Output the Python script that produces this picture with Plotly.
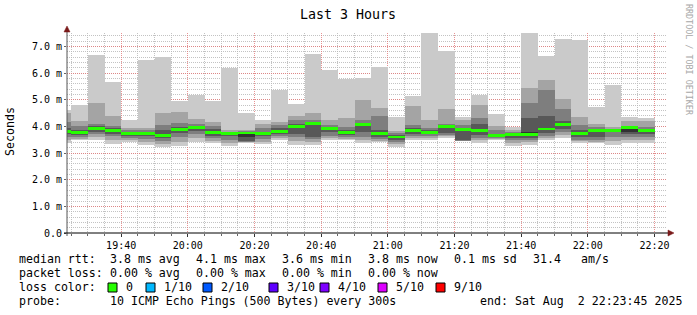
import plotly.graph_objects as go
from datetime import datetime

# ---------------- data ----------------
window_start = "2025-08-02 19:23:45"
window_end = "2025-08-02 22:23:45"
interval_end = ["19:25", "19:30", "19:35", "19:40", "19:45", "19:50", "19:55", "20:00",
                "20:05", "20:10", "20:15", "20:20", "20:25", "20:30", "20:35", "20:40",
                "20:45", "20:50", "20:55", "21:00", "21:05", "21:10", "21:15", "21:20",
                "21:25", "21:30", "21:35", "21:40", "21:45", "21:50", "21:55", "22:00",
                "22:05", "22:10", "22:15", "22:20"]

# sorted ping round-trip times per interval (ms)
ping_1 = [3.38, 3.47, 3.50, 3.35, 3.42, 3.30, 3.23, 3.28, 3.40, 3.36, 3.27, 3.36, 3.35, 3.48, 3.31, 3.30, 3.47, 3.47,
          3.36, 3.42, 3.21, 3.50, 3.49, 3.57, 3.44, 3.39, 3.50, 3.27, 3.30, 3.48, 3.58, 3.39, 3.36, 3.30, 3.36, 3.36]
ping_2 = [3.50, 3.53, 3.60, 3.48, 3.50, 3.42, 3.35, 3.42, 3.55, 3.45, 3.38, 3.40, 3.43, 3.55, 3.45, 3.42, 3.55, 3.53,
          3.48, 3.46, 3.32, 3.58, 3.55, 3.62, 3.45, 3.47, 3.53, 3.38, 3.40, 3.55, 3.68, 3.44, 3.42, 3.45, 3.47, 3.48]
ping_3 = [3.60, 3.60, 3.72, 3.62, 3.58, 3.52, 3.45, 3.60, 3.70, 3.55, 3.50, 3.42, 3.52, 3.65, 3.60, 3.52, 3.65, 3.60,
          3.60, 3.52, 3.42, 3.65, 3.62, 3.68, 3.46, 3.58, 3.56, 3.50, 3.48, 3.65, 3.80, 3.50, 3.50, 3.60, 3.60, 3.60]
ping_4 = [3.70, 3.68, 3.80, 3.72, 3.65, 3.62, 3.55, 3.75, 3.82, 3.65, 3.62, 3.45, 3.62, 3.72, 3.70, 3.60, 3.80, 3.68,
          3.78, 3.60, 3.50, 3.72, 3.70, 3.75, 3.48, 3.68, 3.60, 3.58, 3.55, 3.75, 3.90, 3.60, 3.60, 3.78, 3.72, 3.72]
ping_5 = [3.78, 3.73, 3.88, 3.82, 3.70, 3.70, 3.63, 3.85, 3.91, 3.74, 3.71, 3.60, 3.69, 3.79, 3.95, 4.05, 3.90, 3.74,
          4.00, 3.70, 3.57, 3.82, 3.76, 3.95, 3.82, 3.80, 3.63, 3.67, 3.66, 3.86, 4.05, 3.70, 3.82, 3.82, 3.80, 3.82]
ping_6 = [3.85, 3.80, 3.95, 3.89, 3.74, 3.76, 3.72, 3.91, 3.97, 3.80, 3.75, 3.77, 3.74, 3.85, 4.02, 4.14, 3.95, 3.79,
          4.08, 3.76, 3.62, 3.87, 3.80, 4.02, 3.90, 3.88, 3.67, 3.72, 3.78, 3.95, 4.12, 3.76, 3.86, 3.85, 3.97, 3.86]
ping_7 = [3.95, 3.88, 4.00, 3.95, 3.78, 3.80, 3.85, 3.98, 4.02, 3.90, 3.77, 3.80, 3.80, 3.92, 4.10, 4.18, 3.98, 3.85,
          4.12, 3.85, 3.68, 3.92, 3.85, 4.05, 3.95, 4.08, 3.72, 3.74, 4.32, 4.38, 4.19, 3.85, 3.90, 3.87, 3.99, 3.90]
ping_8 = [4.15, 4.00, 4.10, 4.02, 3.85, 3.85, 4.05, 4.11, 4.08, 4.02, 3.80, 3.83, 3.95, 4.05, 4.23, 4.23, 4.05, 3.98,
          4.23, 4.38, 3.75, 4.04, 3.95, 4.10, 4.05, 4.32, 3.85, 3.78, 4.88, 5.36, 4.64, 4.05, 3.98, 3.90, 4.02, 3.98]
ping_9 = [4.50, 4.20, 4.88, 4.38, 3.92, 3.94, 4.50, 4.54, 4.27, 4.17, 3.88, 3.87, 4.10, 4.15, 4.38, 4.50, 4.22, 4.30,
          4.98, 4.68, 3.82, 4.76, 4.23, 4.65, 4.25, 4.79, 4.00, 3.85, 5.44, 5.73, 5.02, 4.36, 4.08, 3.98, 4.21, 4.20]
ping_10 = [4.63, 4.79, 6.67, 5.65, 4.22, 6.48, 6.60, 4.95, 5.17, 4.94, 6.19, 4.50, 4.22, 5.37, 4.83, 6.73, 6.10, 5.79,
           5.83, 6.23, 4.36, 5.13, 7.50, 6.83, 4.36, 5.17, 4.46, 3.98, 7.50, 6.63, 7.27, 7.23, 4.73, 5.54, 4.36, 4.30]
median_rtt = [3.82, 3.76, 3.92, 3.86, 3.72, 3.73, 3.67, 3.88, 3.94, 3.78, 3.73, 3.75, 3.72, 3.82, 3.99, 4.11, 3.93, 3.76,
              4.06, 3.73, 3.60, 3.85, 3.78, 3.99, 3.88, 3.84, 3.65, 3.70, 3.71, 3.90, 4.08, 3.73, 3.84, 3.84, 3.95, 3.84]

y_ticks = [0, 1, 2, 3, 4, 5, 6, 7]
y_tick_text = ["0.0", "1.0 m", "2.0 m", "3.0 m", "4.0 m", "5.0 m", "6.0 m", "7.0 m"]

loss_labels = ["0", "1/10", "2/10", "3/10", "4/10", "5/10", "9/10"]
loss_colors = ["#26ff00", "#00b8ff", "#0059ff", "#5e00ff", "#7e00ff", "#dd00ff", "#ff0000"]

# ---------------- geometry ----------------
W, H = 697, 315
LEFT, RIGHT, TOP, BOTTOM = 67, 30, 33, 82
PW = W - LEFT - RIGHT
PH = H - TOP - BOTTOM
MONO = "DejaVu Sans Mono"


def px(x):
    return (x - LEFT) / PW


def py(y):
    return (H - BOTTOM - y) / PH


def t(s):
    return datetime.strptime(s, "%Y-%m-%d %H:%M:%S") if len(s) > 5 else \
        datetime.strptime("2025-08-02 " + s + ":00", "%Y-%m-%d %H:%M:%S")


starts = [t(window_start)] + [t(s) for s in interval_end[:-1]]
ends = [t(s) for s in interval_end]
mids = [a + (b - a) / 2 for a, b in zip(starts, ends)]
widths = [(b - a).total_seconds() * 1000 for a, b in zip(starts, ends)]

fig = go.Figure()
bands = [(ping_1, ping_10, "#cacaca"), (ping_2, ping_9, "#a4a4a4"), (ping_3, ping_8, "#7e7e7e"),
         (ping_4, ping_7, "#585858"), (ping_5, ping_6, "#323232")]
for lo, hi, col in bands:
    fig.add_trace(go.Bar(x=mids, y=[h - l for l, h in zip(lo, hi)], base=lo, width=widths,
                         marker=dict(color=col, line=dict(width=0)), hoverinfo="skip", showlegend=False))
half = 0.056
fig.add_trace(go.Bar(x=mids, y=[2 * half] * len(median_rtt), base=[m - half for m in median_rtt], width=widths,
                     marker=dict(color=loss_colors[0], line=dict(width=0)), hoverinfo="skip", showlegend=False))

RED = "rgba(228,120,120,0.8)"
GRAY = "rgba(185,185,185,0.85)"
DASH = "1px,1px"
fig.update_layout(
    width=W, height=H, margin=dict(l=LEFT, r=RIGHT, t=TOP, b=BOTTOM),
    paper_bgcolor="white", plot_bgcolor="white", barmode="overlay", bargap=0,
    font=dict(family=MONO, size=10, color="black"),
    xaxis=dict(type="date", range=[t(window_start), t(window_end)],
               tick0="2025-08-02 19:40:00", dtick=20 * 60 * 1000, tickformat="%H:%M",
               showgrid=True, gridcolor=RED, griddash=DASH, gridwidth=1,
               ticks="outside", ticklen=3, tickcolor="#333", showline=False, zeroline=False,
               tickfont=dict(family=MONO, size=10, color="black"),
               minor=dict(dtick=5 * 60 * 1000, showgrid=True, gridcolor=GRAY, griddash=DASH,
                          ticks="outside", ticklen=2, tickcolor="#666")),
    yaxis=dict(range=[0, 7.5], tickvals=y_ticks, ticktext=y_tick_text,
               showgrid=True, gridcolor=RED, griddash=DASH, gridwidth=1,
               ticks="outside", ticklen=2, tickcolor="#666", showline=False, zeroline=False,
               tickfont=dict(family=MONO, size=10, color="black"),
               minor=dict(dtick=0.2, showgrid=True, gridcolor=GRAY, griddash=DASH)),
)

shapes = []
# y axis with arrow
shapes.append(dict(type="line", xref="paper", yref="paper", x0=px(67), x1=px(67), y0=py(236), y1=py(31),
                   line=dict(color="#555555", width=1)))
shapes.append(dict(type="path", xref="paper", yref="paper",
                   path=f"M {px(64)} {py(32)} L {px(70)} {py(32)} L {px(67)} {py(26)} Z",
                   fillcolor="#7a1a1a", line=dict(color="#7a1a1a", width=0.5)))
# x axis with arrow
shapes.append(dict(type="line", xref="paper", yref="paper", x0=px(64), x1=px(668), y0=py(233), y1=py(233),
                   line=dict(color="#000000", width=1)))
shapes.append(dict(type="path", xref="paper", yref="paper",
                   path=f"M {px(668)} {py(230)} L {px(668)} {py(236)} L {px(674)} {py(233)} Z",
                   fillcolor="#7a1a1a", line=dict(color="#7a1a1a", width=0.5)))

ann = []


def text(x, y, s, size=11.6, color="black", anchor="left", angle=0):
    ann.append(dict(xref="paper", yref="paper", x=px(x), y=py(y), text=s, showarrow=False,
                    xanchor=anchor, yanchor="middle", textangle=angle,
                    font=dict(family=MONO, size=size, color=color)))


text(348, 14, "Last 3 Hours", size=13.3, anchor="center")
text(10, 132, "Seconds", size=11.6, anchor="center", angle=-90)
text(689, 60, "RRDTOOL / TOBI OETIKER", size=8.4, color="#a8a8a8", anchor="center", angle=90)

rows = [259, 273, 287, 301]
text(17, rows[0], "median rtt:")
for x, s in [(108, "3.8 ms avg"), (194, "4.1 ms max"), (280, "3.6 ms min"), (366, "3.8 ms now"),
             (452, "0.1 ms sd"), (531, "31.4"), (579, "am/s")]:
    text(x, rows[0], s)
text(17, rows[1], "packet loss:")
for x, s in [(108, "0.00 % avg"), (194, "0.00 % max"), (280, "0.00 % min"), (366, "0.00 % now")]:
    text(x, rows[1], s)
text(17, rows[2], "loss color:")
sq_x = [108, 146, 203, 269, 320, 378, 436]
for x, lab, col in zip(sq_x, loss_labels, loss_colors):
    shapes.append(dict(type="rect", xref="paper", yref="paper", x0=px(x), x1=px(x + 9),
                       y0=py(rows[2] + 5), y1=py(rows[2] - 4), fillcolor=col, line=dict(color="black", width=1)))
    text(x + 16, rows[2], lab)
text(17, rows[3], "probe:")
text(108, rows[3], "10 ICMP Echo Pings (500 Bytes) every 300s")
text(478, rows[3], "end: Sat Aug  2 22:23:45 2025")

fig.update_layout(shapes=shapes, annotations=ann)
fig.write_html("out.html")
